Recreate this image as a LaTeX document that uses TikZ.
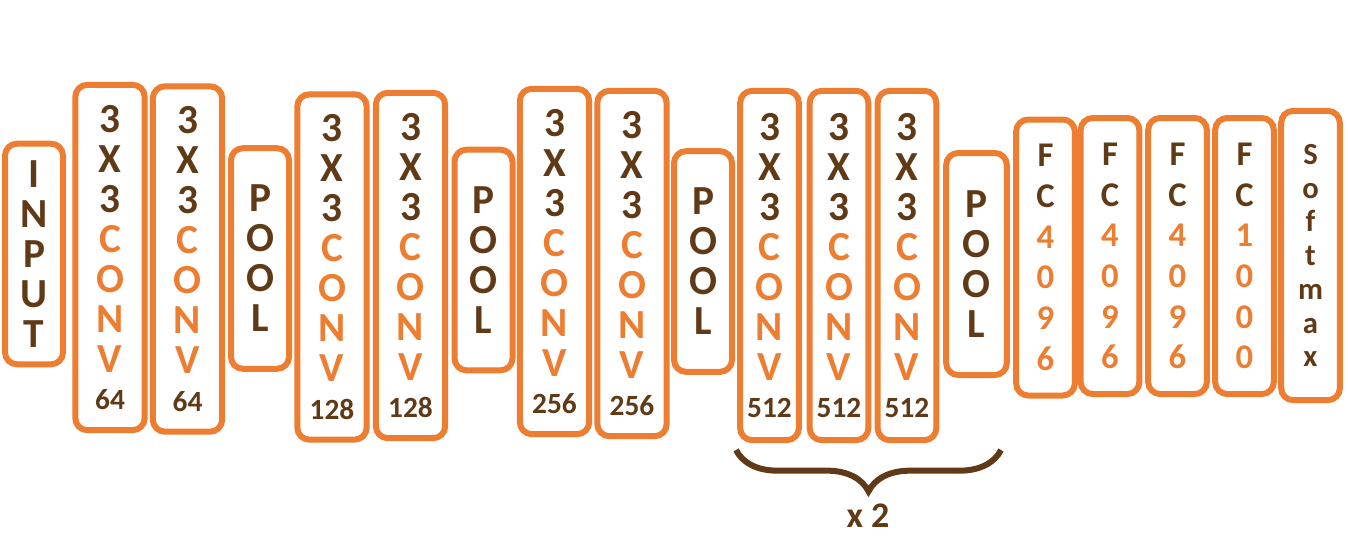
\documentclass[tikz,border=0pt]{standalone}
\usepackage{fontspec}
\setmainfont{Carlito}
\usepackage{tikz}
\usetikzlibrary{decorations.pathreplacing}

\definecolor{layerorange}{HTML}{ED7D31}
\definecolor{labelbrown}{HTML}{603A17}

\newcommand{\og}[1]{\textcolor{layerorange}{#1}}
\newcommand{\convlabel}[1]{3\\X\\3\\\og{C}\\\og{O}\\\og{N}\\\og{V}\\[-2pt]{\fontsize{22}{24}\selectfont #1}}
\newcommand{\fclabel}[4]{F\\C\\\og{#1}\\\og{#2}\\\og{#3}\\\og{#4}}

\tikzset{
  layer/.style={draw=layerorange, line width=4.5pt, rounded corners=9pt,
    inner sep=0pt, align=center, text=labelbrown,
    font=\bfseries\fontsize{31}{30}\selectfont},
  convbox/.style={layer, minimum width=52pt, minimum height=259pt},
  convnarrow/.style={layer, minimum width=44pt, minimum height=262pt},
  poolbox/.style={layer, minimum width=43.5pt, minimum height=165.5pt},
  fcbox/.style={layer, minimum width=44pt, minimum height=207pt,
    font=\bfseries\fontsize{26}{30.5}\selectfont},
  repeatbrace/.style={decorate, decoration={brace, mirror, amplitude=31pt},
    draw=labelbrown, line width=4.5pt}
}

\begin{document}
\begin{tikzpicture}[x=0.75pt, y=-0.75pt]
    \useasboundingbox (0,0) rectangle (1348,535);

    % input and first block
    \node[poolbox] (input) at (34,254) {I\\N\\P\\U\\T};
    \node[convbox] (conv1) at (110,257.5) {\convlabel{64}};
    \node[convbox] (conv2) at (187.5,259) {\convlabel{64}};
    \node[poolbox] (pool1) at (260,258.5) {P\\O\\O\\L};

    % second block
    \node[convbox] (conv3) at (332,267) {\convlabel{128}};
    \node[convbox] (conv4) at (410.5,265.5) {\convlabel{128}};
    \node[poolbox] (pool2) at (483.5,260) {P\\O\\O\\L};

    % third block
    \node[convbox] (conv5) at (554.5,261.5) {\convlabel{256}};
    \node[convbox] (conv6) at (632,263.5) {\convlabel{256}};
    \node[poolbox] (pool3) at (703,261.5) {P\\O\\O\\L};

    % repeated block
    \node[convnarrow] (conv7) at (769.5,265.5) {\convlabel{512}};
    \node[convnarrow] (conv8) at (839,265.5) {\convlabel{512}};
    \node[convnarrow] (conv9) at (907,265.5) {\convlabel{512}};
    \node[poolbox, minimum width=45.5pt, minimum height=166.5pt] (pool4) at (976.5,264) {P\\O\\O\\L};

    % fully connected part
    \node[fcbox] (fc1) at (1045.5,257.5) {\fclabel{4}{0}{9}{6}};
    \node[fcbox] (fc2) at (1110,256) {\fclabel{4}{0}{9}{6}};
    \node[fcbox] (fc3) at (1177.5,256) {\fclabel{4}{0}{9}{6}};
    \node[fcbox] (fc4) at (1244.5,256) {\fclabel{1}{0}{0}{0}};
    \node[fcbox, minimum height=217pt, font=\bfseries\fontsize{23}{25.3}\selectfont] (softmax) at (1310.5,255.5) {S\\o\\f\\t\\m\\a\\x};

    % brace under the repeated block
    \coordinate (braceL) at (736,450);
    \coordinate (braceR) at (1001,450);
    \draw[repeatbrace] (braceL) -- (braceR);
    \node[text=labelbrown, font=\bfseries\fontsize{27}{28}\selectfont] (repeat) at (868,516) {x 2};
\end{tikzpicture}
\end{document}
